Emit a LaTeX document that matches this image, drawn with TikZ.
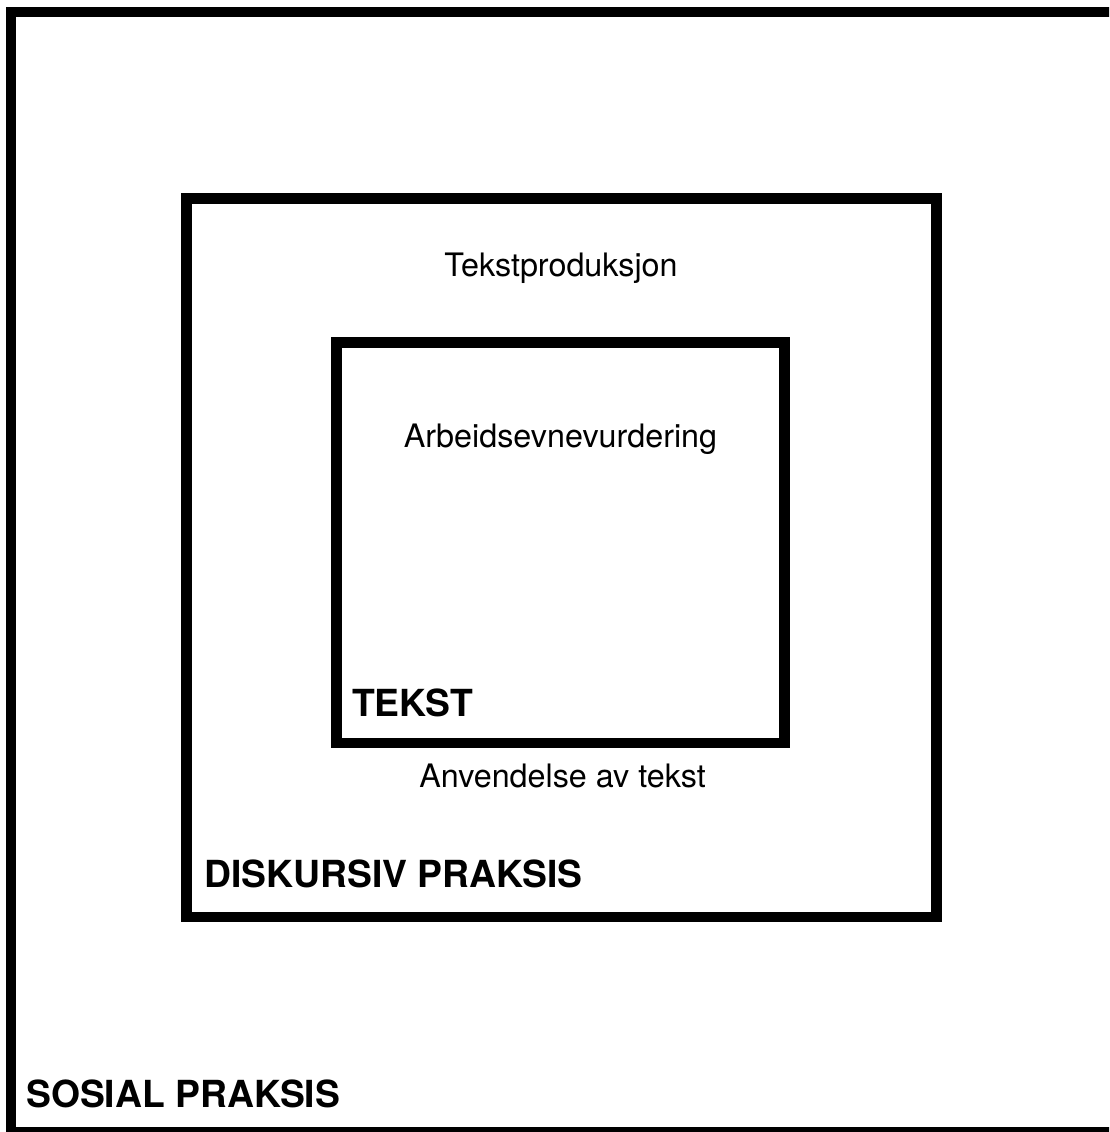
\documentclass[tikz,border=0pt]{standalone}
\usepackage{fontspec}
\setmainfont{TeX Gyre Heros}
\begin{document}
\begin{tikzpicture}[x=1pt,y=-1pt,
  frame/.style={draw=black, line width=10.5pt, fill=none, inner sep=0pt, outer sep=0pt},
  lbl/.style={anchor=base, inner sep=0pt, font=\fontsize{32.3}{36}\selectfont},
  blbl/.style={anchor=base west, inner sep=0pt, font=\fontsize{37.3}{40}\selectfont\bfseries}]
\useasboundingbox (0,0) rectangle (1109,1132);
\clip (0,0) rectangle (1109,1132);
\fill[white] (0,0) rectangle (1109,1132);
\node[frame, minimum width=1135pt, minimum height=1120pt] (outer) at (578.5,572) {};
\node[frame, minimum width=750pt, minimum height=718.5pt] (mid) at (561.5,557.75) {};
\node[frame, minimum width=448pt, minimum height=400.5pt] (inner) at (560.5,542.75) {};
\node[lbl] (prod) at (561,276) {Tekstproduksjon};
\node[lbl] (aev) at (560.5,447) {Arbeidsevnevurdering};
\node[lbl] (anv) at (562.5,787) {Anvendelse av tekst};
\node[blbl] (tekst) at (352,716) {TEKST};
\node[blbl] (disk) at (204,887) {DISKURSIV PRAKSIS};
\node[blbl] (sos) at (26,1107) {SOSIAL PRAKSIS};
\end{tikzpicture}
\end{document}
